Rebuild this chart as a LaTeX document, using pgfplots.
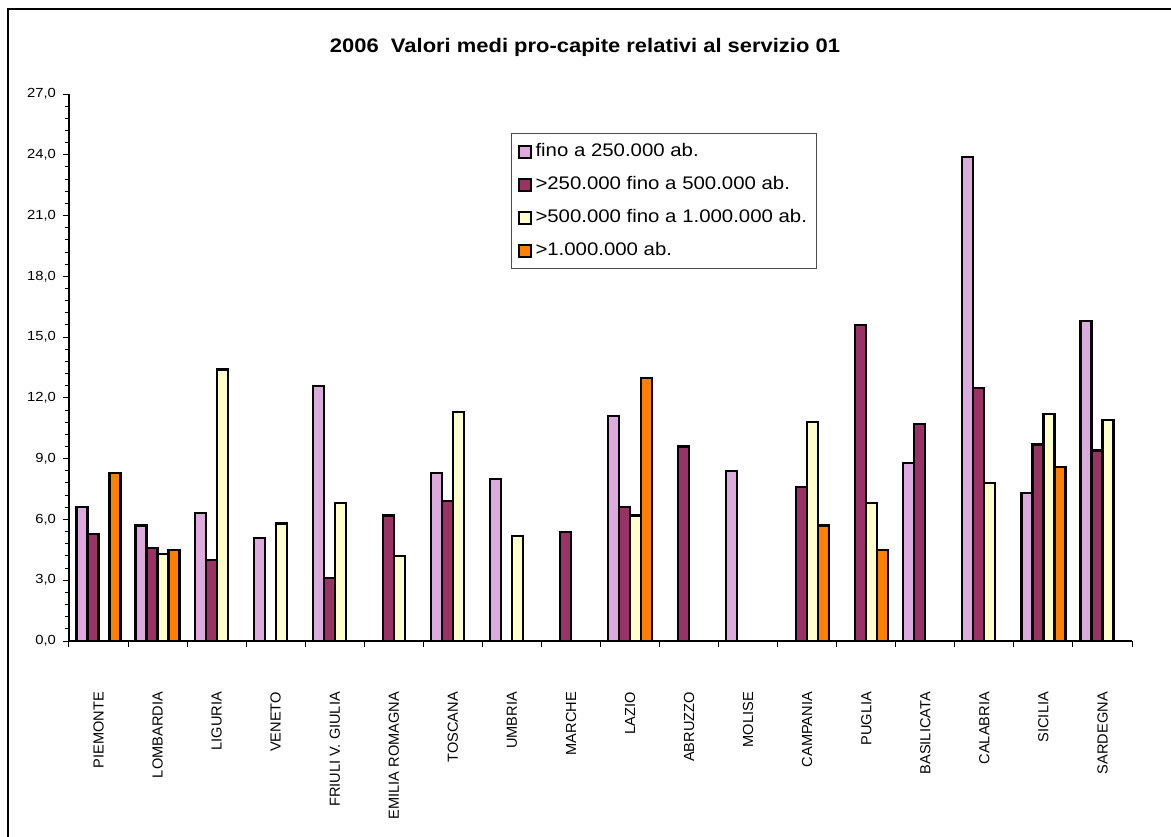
\documentclass[border=0pt]{standalone}
\usepackage{pgfplots}
\pgfplotsset{compat=1.18}
\usepackage{fontspec}
\setmainfont{Liberation Sans}[FakeStretch=1.12]
\newfontfamily\plainfont{Liberation Sans}
\definecolor{cpink}{RGB}{221,170,221}
\definecolor{cmaroon}{RGB}{153,51,102}
\definecolor{cyellow}{RGB}{255,255,204}
\definecolor{corange}{RGB}{255,128,0}
\begin{document}
\begin{tikzpicture}
\begin{axis}[
  scale only axis, width=531.5pt, height=273.5pt,
  at={(0pt,0pt)}, anchor=south west,
  xmin=-0.5, xmax=17.5, ymin=0, ymax=27,
  ybar=0pt, bar width=5.5pt,
  axis x line=bottom, axis y line=left, axis line style={-, line width=0.6pt},
  ytick={0,3,...,27}, minor y tick num=4,
  xtick={-0.5,0.5,...,17.5}, x tick label as interval,
  xticklabels={PIEMONTE,LOMBARDIA,LIGURIA,VENETO,FRIULI V. GIULIA,EMILIA ROMAGNA,TOSCANA,UMBRIA,MARCHE,LAZIO,ABRUZZO,MOLISE,CAMPANIA,PUGLIA,BASILICATA,CALABRIA,SICILIA,SARDEGNA},
  xticklabel style={rotate=90, anchor=east, font=\plainfont\fontsize{7.3}{8}\selectfont},
  xticklabel shift=19pt,
  yticklabel style={font=\fontsize{6.6}{7}\selectfont},
  tick align=outside, major tick length=3pt, minor tick length=2pt,
  tick style={black, line width=0.5pt},
  /pgf/number format/.cd, fixed, fixed zerofill, precision=1, use comma, assume math mode=true,
  /pgfplots/.cd,
  legend style={at={(0.4158,0.9287)}, anchor=north west, draw=black!70, line width=0.5pt,
    font=\fontsize{9.1}{10}\selectfont, row sep=4.4pt, inner xsep=3pt, inner ysep=3pt},
  legend cell align=left,
  legend image code/.code={\draw[#1, line width=1pt] (0pt,-3pt) rectangle (6pt,3pt);},
]
\addplot[fill=cpink, draw=black, line width=1.1pt] coordinates {
 (0,6.6) (1,5.7) (2,6.3) (3,5.1) (4,12.6) (6,8.3) (7,8.0) (9,11.1) (11,8.4) (14,8.8) (15,23.9) (16,7.3) (17,15.8)};
\addplot[fill=cmaroon, draw=black, line width=1.1pt] coordinates {
 (0,5.3) (1,4.6) (2,4.0) (4,3.1) (5,6.2) (6,6.9) (8,5.4) (9,6.6) (10,9.6) (12,7.6) (13,15.6) (14,10.7) (15,12.5) (16,9.7) (17,9.4)};
\addplot[fill=cyellow, draw=black, line width=1.1pt] coordinates {
 (1,4.3) (2,13.4) (3,5.8) (4,6.8) (5,4.2) (6,11.3) (7,5.2) (9,6.2) (12,10.8) (13,6.8) (15,7.8) (16,11.2) (17,10.9)};
\addplot[fill=corange, draw=black, line width=1.1pt] coordinates {
 (0,8.3) (1,4.5) (9,13.0) (12,5.7) (13,4.5) (16,8.6)};
\legend{fino a 250.000 ab., >250.000 fino a 500.000 ab., >500.000 fino a 1.000.000 ab., >1.000.000 ab.}
\end{axis}
\node[font=\bfseries\fontsize{9.8}{11}\selectfont] at (258pt,297pt) {2006\ \ Valori medi pro-capite relativi al servizio 01};
\draw[line width=0.8pt] (-30.5pt,316pt) rectangle (560pt,-110pt);
\pgfresetboundingbox
\useasboundingbox (-34.5pt,-97.5pt) rectangle (551pt,320.5pt);
\end{tikzpicture}
\end{document}
